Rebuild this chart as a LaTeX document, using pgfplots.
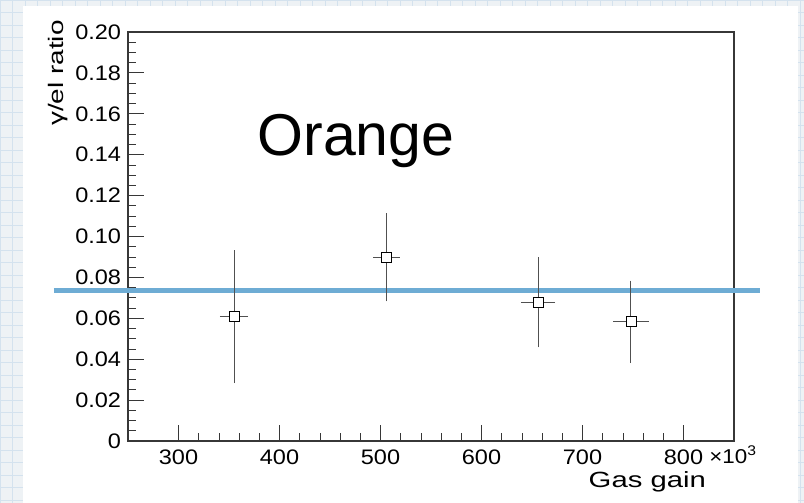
\documentclass[border=0pt]{standalone}
\usepackage{fontspec}
\setmainfont{Liberation Sans}
\usepackage{pgfplots}
\pgfplotsset{compat=1.18}
\usepackage{pgfplotstable}

\definecolor{paper}{RGB}{238,242,245}
\definecolor{paperline}{RGB}{212,226,238}
\definecolor{axisgray}{RGB}{55,55,55}
\definecolor{barsgray}{RGB}{80,80,80}
\definecolor{fitblue}{RGB}{110,172,212}

% gamma/el ratio vs gas gain (x in units of 10^3)
\pgfplotstableread{
x    y       ex    ey
355  0.0608  11    0.0310
506  0.0898  10    0.0200
656  0.0679  14    0.0206
748  0.0583  14.5  0.0187
}\ratiodata

\begin{document}
\begin{tikzpicture}[x=1pt,y=1pt]
\useasboundingbox (0,0) rectangle (804,503);
% graph-paper backdrop and white panel
\fill[paper] (0,0) rectangle (804,503);
\foreach \i in {0,12.5,...,804} \draw[paperline,line width=0.6pt] (\i,0) -- (\i,503);
\foreach \j in {3,15.5,...,503} \draw[paperline,line width=0.6pt] (0,\j) -- (804,\j);
\fill[white] (23,0) rectangle (798,497);

\begin{axis}[
  name=ax, at={(128pt,62pt)}, anchor=south west,
  width=606pt, height=409pt, scale only axis,
  xmin=250, xmax=850, ymin=0, ymax=0.2,
  clip=false,
  axis line style={axisgray, line width=1.2pt},
  tick style={axisgray, line width=0.8pt},
  tick align=inside, tick pos=left,
  major tick length=16pt, minor tick length=8pt,
  xtick={300,400,...,800},
  xticklabels={300,400,500,600,700,800},
  minor x tick num=4,
  ytick={0,0.02,...,0.2},
  yticklabels={0,0.02,0.04,0.06,0.08,0.10,0.12,0.14,0.16,0.18,0.20},
  minor y tick num=3,
  scaled ticks=false,
  ticklabel style={font=\fontsize{21}{21}\selectfont, inner sep=0pt, xscale=1.12},
  xticklabel style={anchor=north, yshift=-9pt},
  yticklabel style={anchor=east, xshift=-6pt},
  xlabel={Gas gain},
  xlabel style={at={(axis description cs:0.954,-0.1125)}, anchor=base east,
    font=\fontsize{22}{22}\selectfont, inner sep=0pt, xscale=1.33},
  ylabel={γ/el ratio},
  ylabel style={at={(axis description cs:-0.116,1.029)}, anchor=east,
    font=\fontsize{21}{21}\selectfont, inner sep=0pt, xscale=1.33},
]
\addplot[fitblue, line width=5pt] coordinates {(176.7,0.0738) (875.7,0.0738)};
\addplot[only marks, mark=square*, mark size=5pt,
  mark options={fill=white, draw=black, line width=0.9pt},
  error bars/.cd, x dir=both, x explicit, y dir=both, y explicit,
  error bar style={barsgray, line width=1pt},
  error mark options={barsgray, line width=1pt, mark size=3pt}]
  table[x=x, y=y, x error=ex, y error=ey] {\ratiodata};
\node[anchor=base west, inner sep=0pt, font=\fontsize{20}{20}\selectfont, xscale=1.12]
  at (axis description cs:0.959,-0.054) {×10\textsuperscript{3}};
\node[anchor=base, inner sep=0pt, font=\fontsize{59}{59}\selectfont]
  at (axis description cs:0.376,0.697) {Orange};
\end{axis}
\end{tikzpicture}
\end{document}
